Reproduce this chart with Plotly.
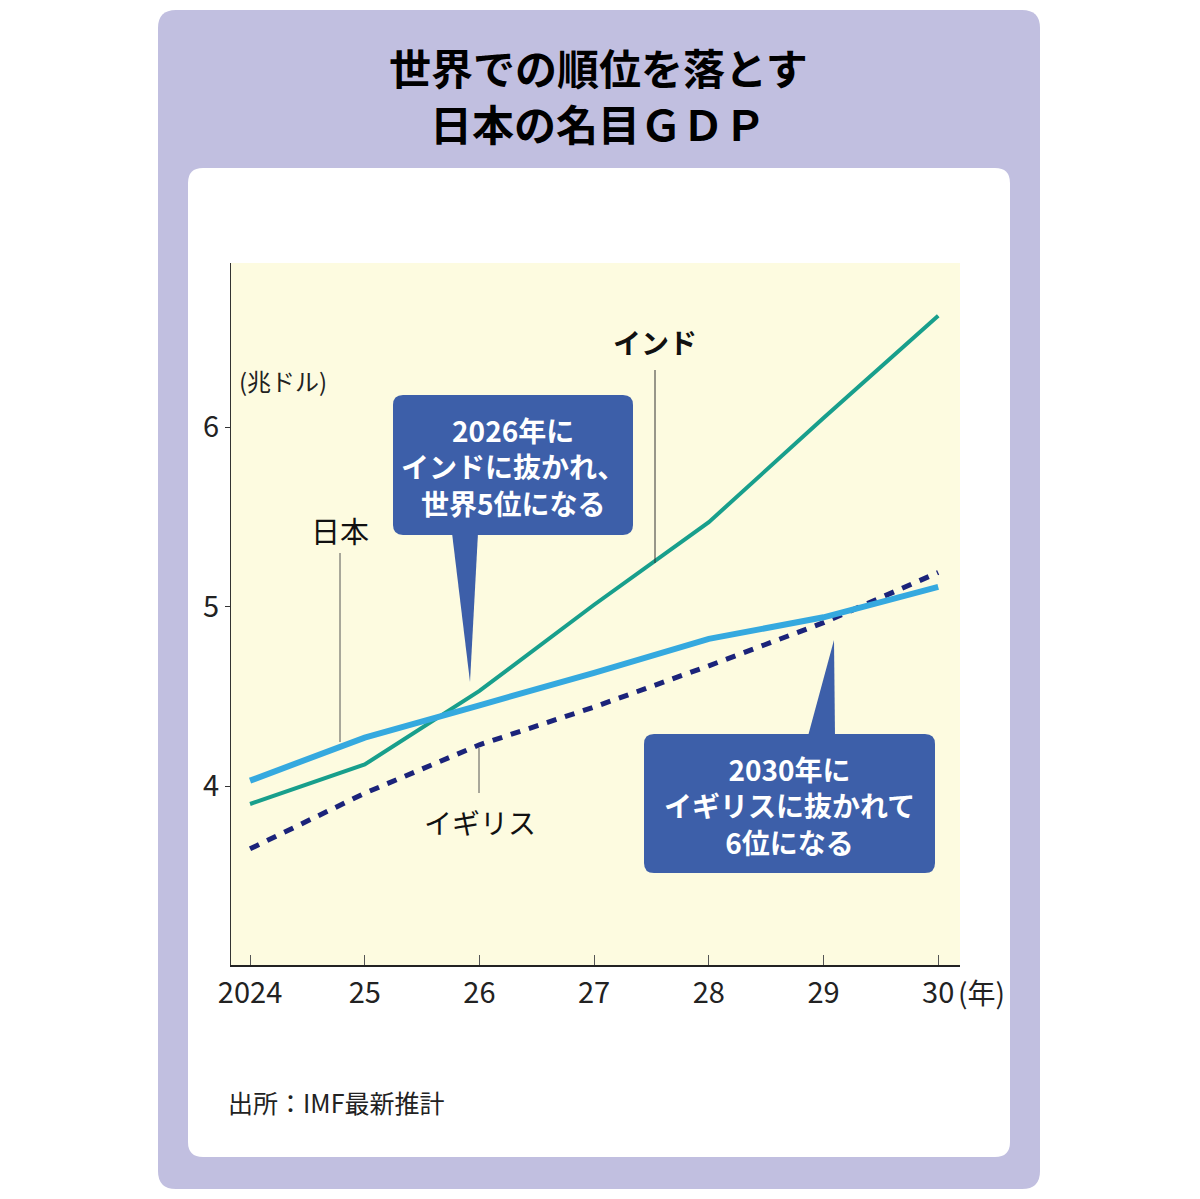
import plotly.graph_objs as go

# data (trillion US$)
years = [2024, 2025, 2026, 2027, 2028, 2029, 2030]
tick_labels = ["2024", "25", "26", "27", "28", "29", "30"]
japan = [4.03, 4.27, 4.45, 4.63, 4.82, 4.94, 5.11]
india = [3.90, 4.12, 4.53, 5.01, 5.47, 6.05, 6.62]
uk = [3.65, 3.96, 4.23, 4.44, 4.67, 4.91, 5.19]
y_ticks = [4, 5, 6]

# the page body adds an 8px margin, so work in page pixels and shift
OFF = 8
W, H = 1200 - OFF, 1199 - OFF
# plot area in page pixels
L, R, T, B = 231, 960, 263, 965
FONT = "Noto Sans CJK JP"


def px(x):
    return (x - L) / (R - L)


def py(y):
    return (B - y) / (B - T)


def rrect(x0, y0, x1, y1, r):
    pts = [
        ("M", [(x0 + r, y0)]), ("L", [(x1 - r, y0)]), ("Q", [(x1, y0), (x1, y0 + r)]),
        ("L", [(x1, y1 - r)]), ("Q", [(x1, y1), (x1 - r, y1)]),
        ("L", [(x0 + r, y1)]), ("Q", [(x0, y1), (x0, y1 - r)]),
        ("L", [(x0, y0 + r)]), ("Q", [(x0, y0), (x0 + r, y0)]),
    ]
    s = ""
    for cmd, ps in pts:
        s += cmd + " " + " ".join(f"{px(a):.5f},{py(b):.5f}" for a, b in ps) + " "
    return s + "Z"


def poly(points):
    s = "M " + " L ".join(f"{px(a):.5f},{py(b):.5f}" for a, b in points)
    return s + " Z"


PURPLE = "#c1bfe0"
CALLOUT = "#3d5fa9"


def path(p, color, layer="above"):
    return dict(type="path", path=p, xref="paper", yref="paper",
                fillcolor=color, line_width=0, layer=layer)


def vline(x, y0, y1, color):
    return dict(type="line", x0=px(x), x1=px(x), y0=py(y0), y1=py(y1), xref="paper", yref="paper",
                line=dict(color=color, width=1))


shapes = [
    path(rrect(158, 10, 1040, 1189, 18), PURPLE, "below"),
    path(rrect(188, 168, 1010, 1157, 15), "white", "below"),
    dict(type="rect", x0=0, x1=1, y0=0, y1=1, xref="paper", yref="paper",
         fillcolor="#fdfbe0", line_width=0, layer="below"),
    # leader lines
    vline(340, 553, 742, "#555555"),
    vline(655, 370, 563, "#333333"),
    vline(479, 748, 793, "#555555"),
    # callouts
    path(rrect(393, 395, 633, 535, 10), CALLOUT),
    path(poly([(452, 533), (478, 533), (470, 682)]), CALLOUT),
    path(rrect(644, 734, 935, 873, 10), CALLOUT),
    path(poly([(808, 736), (835, 736), (834, 640)]), CALLOUT),
]


def note(text, x, y, size, color="#111111", xanchor="center", bold=False):
    if bold:
        text = "<b>" + text + "</b>"
    return dict(text=text, x=px(x), y=py(y), xref="paper", yref="paper", showarrow=False,
                xanchor=xanchor, yanchor="middle", font=dict(family=FONT, size=size, color=color))


annotations = [
    note("世界での順位を落とす", 598, 66, 42, "#000000", bold=True),
    note("日本の名目ＧＤＰ", 598, 122, 42, "#000000", bold=True),
    note("(兆ドル)", 237, 380, 24, "#222222", xanchor="left"),
    note("(年)", 956, 992, 28, "#222222", xanchor="left"),
    note("日本", 340, 530, 29),
    note("インド", 655, 342, 28, bold=True),
    note("イギリス", 480, 822, 28),
    note("2026年に<br>インドに抜かれ、<br>世界5位になる", 513, 466, 28, "white", bold=True),
    note("2030年に<br>イギリスに抜かれて<br>6位になる", 789, 805, 28, "white", bold=True),
    note("出所：IMF最新推計", 226, 1102, 25, "#222222", xanchor="left"),
]

fig = go.Figure()
fig.add_trace(go.Scatter(x=years, y=uk, mode="lines", name="イギリス",
                         line=dict(color="#1b237a", width=5, dash="10px,9px")))
fig.add_trace(go.Scatter(x=years, y=india, mode="lines", name="インド",
                         line=dict(color="#189f8c", width=4)))
fig.add_trace(go.Scatter(x=years, y=japan, mode="lines", name="日本",
                         line=dict(color="#35a9df", width=6)))

fig.update_layout(
    width=W, height=H,
    margin=dict(l=L - OFF, r=W - (R - OFF), t=T - OFF, b=H - (B - OFF)),
    paper_bgcolor="white",
    plot_bgcolor="rgba(0,0,0,0)",
    showlegend=False,
    font=dict(family=FONT, color="#222222"),
    shapes=shapes,
    annotations=annotations,
    xaxis=dict(range=[2023.834, 2030.19], tickvals=years, ticktext=tick_labels,
               showgrid=False, zeroline=False, showline=True, linecolor="#222222", linewidth=1.5,
               ticks="inside", ticklen=10, tickcolor="#555555",
               tickfont=dict(size=29, color="#222222"), ticklabelstandoff=1),
    yaxis=dict(range=[3.003, 6.914], tickvals=y_ticks,
               showgrid=False, zeroline=False, showline=True, linecolor="#333333", linewidth=1,
               ticks="outside", ticklen=5, tickcolor="#333333",
               tickfont=dict(size=29, color="#222222"), ticklabelstandoff=0),
)

fig.write_html("out.html")
